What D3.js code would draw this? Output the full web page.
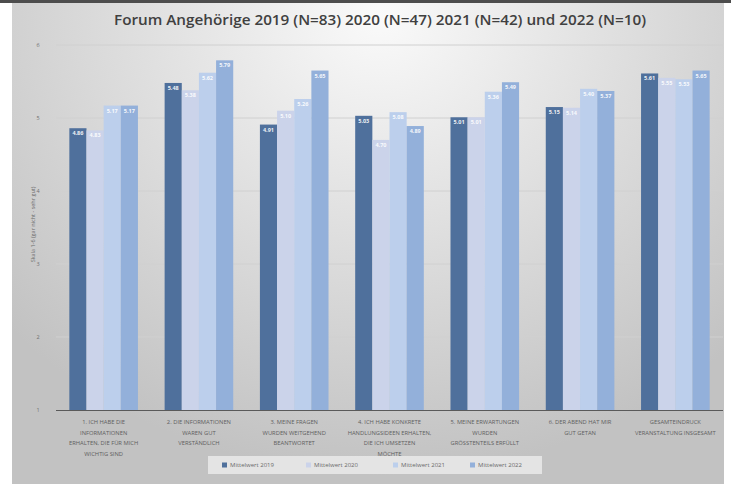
<!DOCTYPE html>
<html>
<head>
    <meta charset="utf-8">
    <title>Forum Angehörige</title>
    <style>
        body { margin: 0; background: #fff; }
        svg { display: block; }
        text { font-family: "Open Sans", "Liberation Sans", sans-serif; }
    </style>
    <script src="https://cdn.jsdelivr.net/npm/d3@7"></script>
</head>
<body>
<div id="chart"></div>
<script>
    const width = 731,
          height = 486;

    // --- data ---
    const categories = [
        ["1. ICH HABE DIE", "INFORMATIONEN", "ERHALTEN, DIE FÜR MICH", "WICHTIG SIND"],
        ["2. DIE INFORMATIONEN", "WAREN GUT", "VERSTÄNDLICH"],
        ["3. MEINE FRAGEN", "WURDEN WEITGEHEND", "BEANTWORTET"],
        ["4. ICH HABE KONKRETE", "HANDLUNGSIDEEN ERHALTEN,", "DIE ICH UMSETZEN", "MÖCHTE"],
        ["5. MEINE ERWARTUNGEN", "WURDEN", "GRÖSSTENTEILS ERFÜLLT"],
        ["6. DER ABEND HAT MIR", "GUT GETAN"],
        ["GESAMTEINDRUCK", "VERANSTALTUNG INSGESAMT"]
    ];
    const seriesNames = ["Mittelwert 2019", "Mittelwert 2020", "Mittelwert 2021", "Mittelwert 2022"];
    const values2019 = [4.86, 5.48, 4.91, 5.03, 5.01, 5.15, 5.61];
    const values2020 = [4.83, 5.38, 5.10, 4.70, 5.01, 5.14, 5.55];
    const values2021 = [5.17, 5.62, 5.26, 5.08, 5.36, 5.40, 5.53];
    const values2022 = [5.17, 5.79, 5.65, 4.89, 5.49, 5.37, 5.65];
    const yTicks = [1, 2, 3, 4, 5, 6];

    const colors = ["#4f709c", "#cbd3ea", "#bccfec", "#93b0da"];
    const allSeries = [values2019, values2020, values2021, values2022];

    const svg = d3.select('#chart').append('svg')
        .attr('width', width)
        .attr('height', height);

    // background gradient like the excel chart area
    const defs = svg.append('defs');
    const grad = defs.append('radialGradient')
        .attr('id', 'bg')
        .attr('gradientUnits', 'userSpaceOnUse')
        .attr('cx', 380).attr('cy', 15).attr('r', 460)
        .attr('gradientTransform', 'translate(380,15) scale(1.1,1) translate(-380,-15)');
    grad.append('stop').attr('offset', '0%').attr('stop-color', '#fafafa');
    grad.append('stop').attr('offset', '35%').attr('stop-color', '#e6e6e6');
    grad.append('stop').attr('offset', '100%').attr('stop-color', '#c2c2c2');

    svg.append('rect').attr('x', 12).attr('y', 3).attr('width', 712).attr('height', 481)
        .attr('fill', 'url(#bg)');
    svg.append('rect').attr('x', 0).attr('y', 0).attr('width', width).attr('height', 3)
        .attr('fill', '#4d4d4d');

    const margin = {left: 56, right: 8, top: 45, bottom: 76};

    const x0 = d3.scaleBand()
        .domain(d3.range(categories.length))
        .range([margin.left, width - margin.right])
        .paddingInner(0.28)
        .paddingOuter(0.14);

    const x1 = d3.scaleBand()
        .domain(d3.range(seriesNames.length))
        .range([0, x0.bandwidth()]);

    const y = d3.scaleLinear()
        .domain([1, 6])
        .range([height - margin.bottom, margin.top]);

    // gridlines
    svg.append('g')
        .selectAll('line')
        .data(yTicks.slice(1))
        .join('line')
        .attr('x1', margin.left)
        .attr('x2', width - margin.right)
        .attr('y1', d => y(d))
        .attr('y2', d => y(d))
        .attr('stroke', '#d0d0d0')
        .attr('stroke-width', 1);

    // y tick labels
    svg.append('g')
        .selectAll('text')
        .data(yTicks)
        .join('text')
        .attr('x', 38)
        .attr('y', d => y(d))
        .attr('dy', '0.35em')
        .attr('text-anchor', 'middle')
        .attr('font-size', 5.5)
        .attr('fill', '#707070')
        .text(d => d);

    // y title
    svg.append('text')
        .attr('transform', `translate(35,${(y(1) + y(6)) / 2 - 3}) rotate(-90)`)
        .attr('text-anchor', 'middle')
        .attr('font-size', 5.5)
        .attr('fill', '#6a6a6a')
        .text('Skala 1-6 (gar nicht - sehr gut)');

    // bars
    const groups = svg.append('g')
        .selectAll('g')
        .data(categories.map((c, i) => allSeries.map((s, j) => ({i, j, v: s[i]}))))
        .join('g')
        .attr('transform', (d, i) => `translate(${x0(i)},0)`);

    groups.selectAll('rect')
        .data(d => d)
        .join('rect')
        .attr('x', d => x1(d.j))
        .attr('y', d => y(d.v))
        .attr('width', x1.bandwidth())
        .attr('height', d => y(1) - y(d.v))
        .attr('fill', d => colors[d.j]);

    groups.selectAll('text')
        .data(d => d)
        .join('text')
        .attr('x', d => x1(d.j) + x1.bandwidth() / 2)
        .attr('y', d => y(d.v) + 7)
        .attr('text-anchor', 'middle')
        .attr('font-size', 5.5)
        .attr('font-weight', 'bold')
        .attr('fill', '#ffffff')
        .attr('opacity', 0.9)
        .text(d => d3.format('.2f')(d.v));

    // x axis line
    svg.append('line')
        .attr('x1', margin.left)
        .attr('x2', width - margin.right)
        .attr('y1', y(1) + 0.5)
        .attr('y2', y(1) + 0.5)
        .attr('stroke', '#5a5a5a')
        .attr('stroke-width', 1.2);

    // category labels
    const catLabels = svg.append('g')
        .selectAll('text')
        .data(categories)
        .join('text')
        .attr('x', (d, i) => x0(i) + x0.bandwidth() / 2)
        .attr('y', 424)
        .attr('text-anchor', 'middle')
        .attr('font-size', 5.8)
        .attr('fill', '#606060');

    catLabels.selectAll('tspan')
        .data(d => d)
        .join('tspan')
        .attr('x', function() { return this.parentNode.getAttribute('x'); })
        .attr('dy', (d, k) => k === 0 ? 0 : 10.5)
        .text(d => d);

    // title
    svg.append('text')
        .attr('x', 380)
        .attr('y', 25)
        .attr('text-anchor', 'middle')
        .attr('font-size', 14)
        .attr('font-weight', 600)
        .attr('fill', '#404040')
        .attr('textLength', 532)
        .attr('lengthAdjust', 'spacingAndGlyphs')
        .text('Forum Angehörige 2019 (N=83) 2020 (N=47) 2021 (N=42) und 2022 (N=10)');

    // legend
    const legend = svg.append('g');
    legend.append('rect')
        .attr('x', 208).attr('y', 456)
        .attr('width', 334).attr('height', 18)
        .attr('fill', '#ececec')
        .attr('opacity', 0.8);

    const legendX = [222, 306, 393, 470];
    const item = legend.selectAll('g')
        .data(seriesNames)
        .join('g')
        .attr('transform', (d, i) => `translate(${legendX[i]},465)`);

    item.append('rect')
        .attr('x', 0).attr('y', -2.5)
        .attr('width', 5).attr('height', 5)
        .attr('fill', (d, i) => colors[i]);

    item.append('text')
        .attr('x', 8)
        .attr('dy', '0.35em')
        .attr('font-size', 6)
        .attr('fill', '#6a6a6a')
        .text(d => d);
</script>
</body>
</html>
